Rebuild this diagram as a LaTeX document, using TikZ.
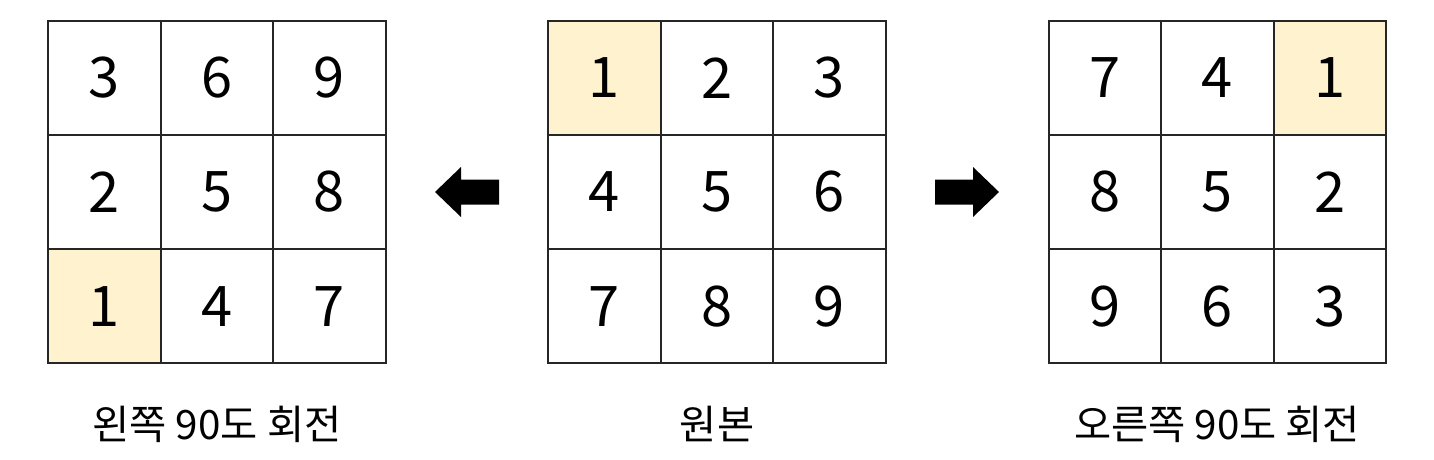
\documentclass[tikz,border=0pt]{standalone}
\usepackage{fontspec}
\setmainfont{Noto Sans CJK KR}
\usepackage{xcolor}
\definecolor{hilite}{HTML}{FFF2CF}
\definecolor{edge}{HTML}{262626}
\newcommand{\grid}[3] {
    \foreach \n/\f [count=\i from 0] in {#3} {
        \pgfmathtruncatemacro\c{mod(\i,3)}
        \pgfmathtruncatemacro\r{div(\i,3)}
        \node[cell,fill=\f] (#1\i) at ({#2+(\c+0.5)*112.6}, {20.7+(\r+0.5)*114.2}) {\n};
    }
}
\newcommand{\blockarrow}[2] {
    \fill[black] ({#1}, 179.5) -- ({#1+#2*38}, 179.5) -- ({#1+#2*38}, 167)
        -- ({#1+#2*64}, 192) -- ({#1+#2*38}, 217) -- ({#1+#2*38}, 204.5)
        -- ({#1}, 204.5) -- cycle;
}

\begin{document}
\begin{tikzpicture}[
        x=0.5pt, y=-0.5pt,
        cell/.style={
            draw=edge,
            line width=1pt,
            minimum width=56.3pt,
            minimum height=57.1pt,
            inner sep=0pt,
            outer sep=0pt,
            font=\fontsize{28pt}{30pt}\selectfont
        },
        caption/.style={
            anchor=base,
            inner sep=0pt,
            font=\fontsize{20.2pt}{24pt}\selectfont
        }
    ]
        \useasboundingbox (0,0) rectangle (1434,460);
        % left turn
        \grid{L}{48}{3/white,6/white,9/white,2/white,5/white,8/white,1/hilite,4/white,7/white}
        \node[caption] (lcap) at (217,439.5) {왼쪽 90도 회전};
        % original
        \grid{O}{548}{1/hilite,2/white,3/white,4/white,5/white,6/white,7/white,8/white,9/white}
        \node[caption] (ocap) at (717,439.5) {원본};
        % right turn
        \grid{R}{1048.5}{7/white,4/white,1/hilite,8/white,5/white,2/white,9/white,6/white,3/white}
        \node[caption] (rcap) at (1217,439.5) {오른쪽 90도 회전};
        % arrows
        \blockarrow{499}{-1}
        \blockarrow{935}{1}
    \end{tikzpicture}
\end{document}
